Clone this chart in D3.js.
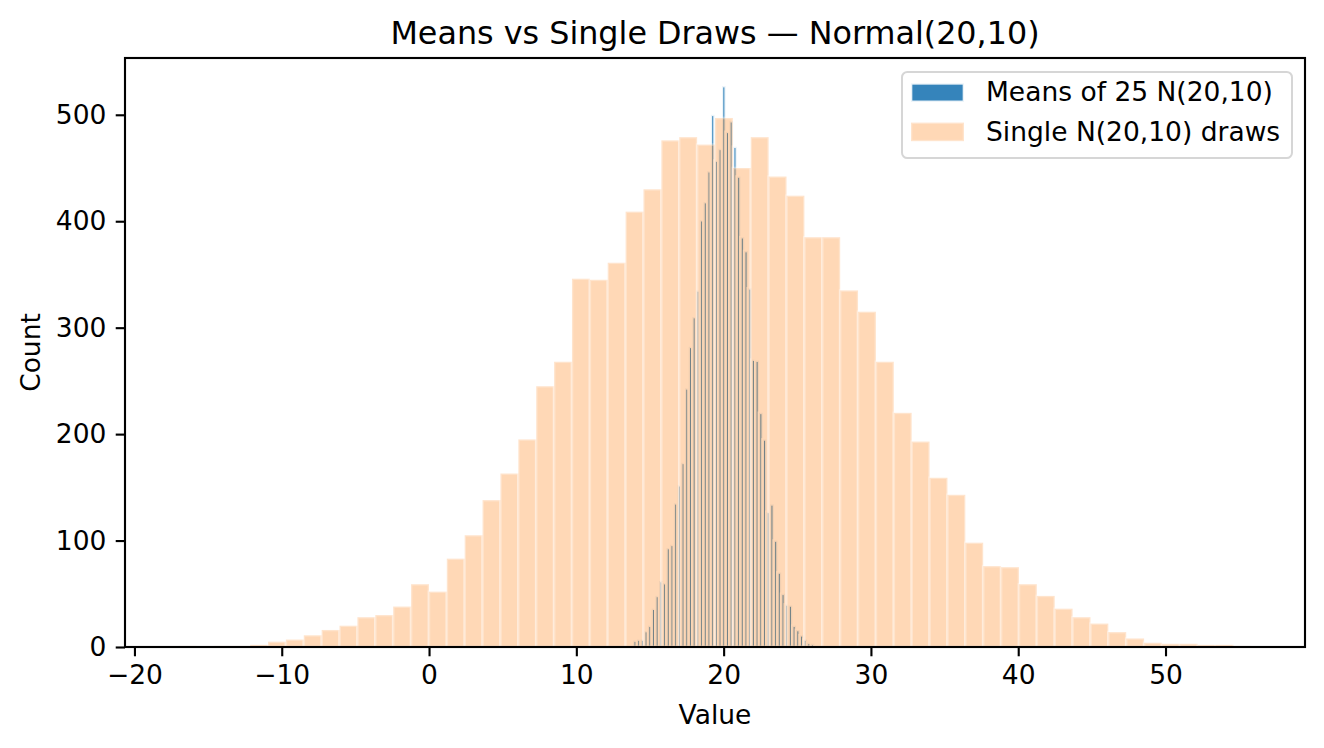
<!DOCTYPE html>
<html><head><meta charset="utf-8">
<script src="https://cdn.jsdelivr.net/npm/d3@7"></script>
<style>body{margin:0;background:#fff}svg{display:block}text{font-family:"DejaVu Sans",sans-serif;fill:#000}</style>
</head><body>
<svg id="chart" width="1324" height="748"></svg>
<script>
// ---- data ----
const singleBinStart = -17.0;
const singleBinWidth = 1.2138;
const singleCounts = [1,0,1,1,2,5,7,11,16,20,28,30,38,59,52,83,105,138,163,195,245,268,346,345,361,409,430,476,479,472,497,450,479,442,424,385,385,335,315,268,220,193,159,143,98,76,75,59,48,36,28,22,14,8,4,3,3,2,2,1];
const meanBinStart = 13.86;
const meanBinWidth = 0.2512;
const meanCounts = [6,7,7,15,20,36,48,62,60,93,96,135,152,173,243,282,310,335,401,418,447,500,457,468,527,484,494,470,442,385,372,337,270,269,220,195,127,134,100,70,50,40,39,20,16,11,7,4,3,1];
const xTicks = [-20,-10,0,10,20,30,40,50];
const yTicks = [0,100,200,300,400,500];
const seriesLabels = ["Means of 25 N(20,10)", "Single N(20,10) draws"];
const titleText = "Means vs Single Draws \u2014 Normal(20,10)";
const xLabel = "Value", yLabel = "Count";

// ---- layout ----
const W = 1324, H = 748;
const L = 125, R = 1305, T = 58, B = 647;
const pt = 2.65;               // px per point
const fs = 10 * pt, fsTitle = 12 * pt;
const blue = "#1f77b4", orange = "#ff7f0e";

const svg = d3.select("#chart");

const dataMin = Math.min(singleBinStart, meanBinStart);
const dataMax = Math.max(singleBinStart + singleCounts.length * singleBinWidth,
                         meanBinStart + meanCounts.length * meanBinWidth);
const span = dataMax - dataMin;
const x = d3.scaleLinear().domain([dataMin - 0.05 * span, dataMax + 0.05 * span]).range([L, R]);
const yMax = d3.max(meanCounts.concat(singleCounts)) * 1.05;
const y = d3.scaleLinear().domain([0, yMax]).range([B, T]);

function bins(start, width, counts) {
  return counts.map((c, i) => ({x0: start + i * width, x1: start + (i + 1) * width, c}));
}

const gPlot = svg.append("g");
// means (drawn first)
gPlot.append("g").selectAll("rect")
  .data(bins(meanBinStart, meanBinWidth, meanCounts).filter(d => d.c > 0))
  .join("rect")
  .attr("x", d => x(d.x0)).attr("width", d => x(d.x1) - x(d.x0))
  .attr("y", d => y(d.c)).attr("height", d => y(0) - y(d.c))
  .attr("fill", blue).attr("fill-opacity", 0.9)
  .attr("stroke", "#fff").attr("stroke-opacity", 0.9).attr("stroke-width", pt);
// single draws on top
gPlot.append("g").selectAll("rect")
  .data(bins(singleBinStart, singleBinWidth, singleCounts).filter(d => d.c > 0))
  .join("rect")
  .attr("x", d => x(d.x0)).attr("width", d => x(d.x1) - x(d.x0))
  .attr("y", d => y(d.c)).attr("height", d => y(0) - y(d.c))
  .attr("fill", orange).attr("fill-opacity", 0.3)
  .attr("stroke", "#fff").attr("stroke-opacity", 0.3).attr("stroke-width", pt);

// axes
const fmt = d3.format("d");
const xAxis = d3.axisBottom(x).tickValues(xTicks).tickFormat(fmt).tickSizeInner(3.5 * pt).tickSizeOuter(0).tickPadding(3.5 * pt);
const yAxis = d3.axisLeft(y).tickValues(yTicks).tickFormat(fmt).tickSizeInner(3.5 * pt).tickSizeOuter(0).tickPadding(3.5 * pt);
const gx = svg.append("g").attr("transform", `translate(0,${B})`).call(xAxis);
const gy = svg.append("g").attr("transform", `translate(${L},0)`).call(yAxis);
[gx, gy].forEach(g => {
  g.select(".domain").remove();
  g.selectAll(".tick line").attr("stroke", "#000").attr("stroke-width", 0.8 * pt);
  g.selectAll(".tick text").attr("font-size", fs).attr("font-family", "DejaVu Sans").attr("fill", "#000");
});

// frame
svg.append("rect").attr("x", L).attr("y", T).attr("width", R - L).attr("height", B - T)
  .attr("fill", "none").attr("stroke", "#000").attr("stroke-width", 0.8 * pt);

// title & labels
svg.append("text").attr("x", (L + R) / 2).attr("y", 44).attr("text-anchor", "middle")
  .attr("font-size", fsTitle).text(titleText);
svg.append("text").attr("x", (L + R) / 2).attr("y", 724).attr("text-anchor", "middle")
  .attr("font-size", fs).text(xLabel);
svg.append("text").attr("transform", `translate(40,${(T + B) / 2}) rotate(-90)`).attr("text-anchor", "middle")
  .attr("font-size", fs).text(yLabel);

// legend
const lg = svg.append("g");
lg.append("rect").attr("x", 902).attr("y", 72).attr("width", 390).attr("height", 86).attr("rx", 5.3)
  .attr("fill", "#fff").attr("fill-opacity", 0.8).attr("stroke", "#cccccc").attr("stroke-opacity", 0.8).attr("stroke-width", 2);
const legendItems = [
  {label: seriesLabels[0], color: blue, op: 0.9},
  {label: seriesLabels[1], color: orange, op: 0.3}
];
legendItems.forEach((d, i) => {
  const cy = 92.6 + 39.3 * i;
  lg.append("rect").attr("x", 911).attr("y", cy - 0.35 * fs).attr("width", 2 * fs).attr("height", 0.7 * fs)
    .attr("fill", d.color).attr("fill-opacity", d.op)
    .attr("stroke", "#fff").attr("stroke-opacity", d.op).attr("stroke-width", pt);
  lg.append("text").attr("x", 986).attr("y", cy + 8.7).attr("font-size", fs).text(d.label);
});
</script>
</body></html>
